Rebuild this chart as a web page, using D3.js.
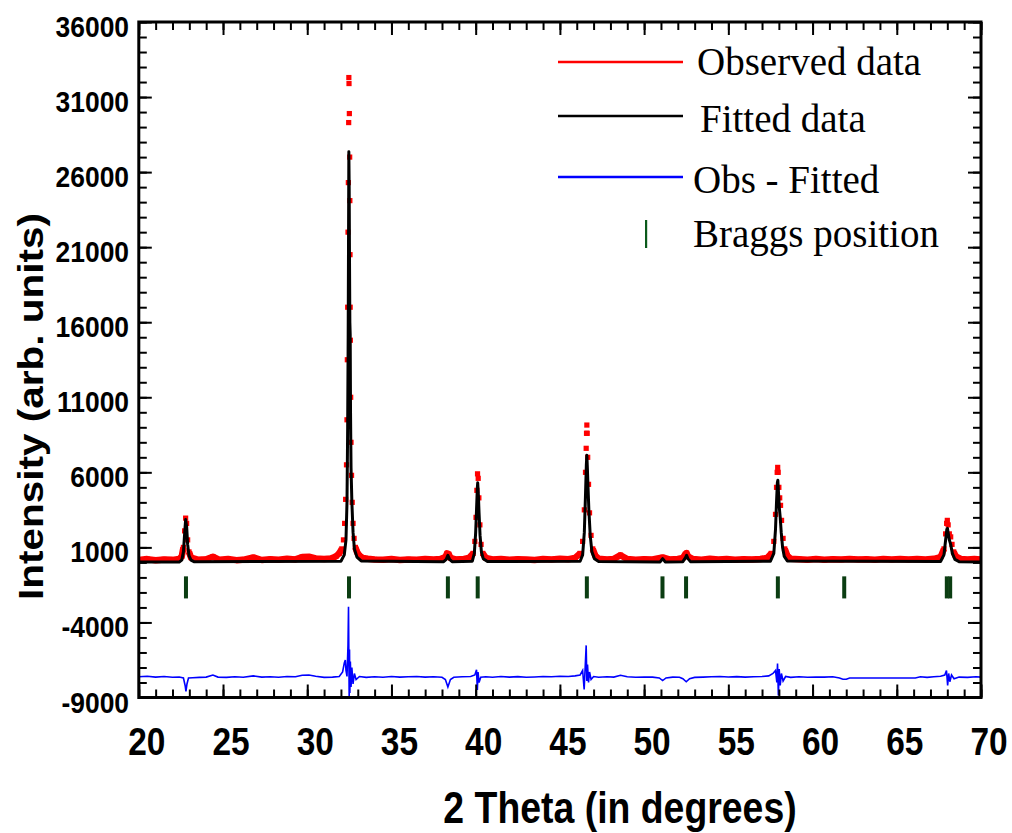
<!DOCTYPE html>
<html><head><meta charset="utf-8">
<script src="https://cdn.jsdelivr.net/npm/d3@7"></script>
<style>body{margin:0;background:#fff}svg{display:block}</style>
</head><body>
<svg id="chart" width="1012" height="833"></svg>
<script>
// ---- data ----
const xTicks = [20,25,30,35,40,45,50,55,60,65,70];
const yTicks = [-9000,-4000,1000,6000,11000,16000,21000,26000,31000,36000];
const legendLabels = ["Observed data","Fitted data","Obs - Fitted","Braggs position"];

const observed = [
[20.0,160],[20.5,220],[21.0,140],[21.5,200],[22.0,170],[22.4,230],
[22.55,400],[22.65,1000],[22.72,2100],[22.78,2950],[22.84,2600],[22.9,1500],[22.98,700],[23.1,320],
[23.5,180],[24.0,210],[24.4,380],[24.8,170],[25.3,230],[25.8,150],[26.3,200],[26.8,330],[27.3,160],[27.8,210],
[28.3,180],[28.8,240],[29.3,200],[29.7,360],[30.1,380],[30.5,260],[31.0,220],[31.4,260],[31.7,400],[31.9,600],
[32.05,900],[32.15,1500],[32.22,2600],[32.28,4200],[32.33,6500],[32.36,9500],[32.38,13500],[32.40,17000],
[32.42,22000],[32.44,25300],[32.46,29300],[32.47,32300],[32.48,31900],[32.50,29900],[32.52,27000],[32.53,24100],
[32.54,20500],[32.55,17000],[32.56,14800],[32.58,11000],[32.60,8000],[32.63,5800],[32.67,4000],[32.72,2600],
[32.78,1600],[32.86,1000],[32.95,700],[33.1,450],[33.3,300],
[33.6,250],[34.0,200],[34.5,180],[35.0,220],[35.5,160],[36.0,200],[36.5,170],[37.0,230],[37.5,190],[37.9,220],
[38.2,350],[38.3,600],[38.4,550],[38.5,300],[38.8,200],[39.3,230],[39.6,300],
[39.85,600],[39.95,1400],[40.02,3000],[40.07,4800],[40.11,5900],[40.15,5600],[40.19,4300],[40.25,2500],[40.32,1200],[40.42,600],[40.6,300],
[41.0,200],[41.5,230],[42.0,170],[42.5,210],[43.0,190],[43.5,160],[44.0,220],[44.5,200],[45.0,240],[45.5,210],[45.9,300],[46.2,600],
[46.35,1400],[46.45,3500],[46.52,6000],[46.56,7600],[46.58,8600],[46.6,9150],[46.62,8600],[46.65,7000],[46.7,5200],
[46.76,3300],[46.85,1800],[46.95,900],[47.1,450],[47.3,250],
[47.8,200],[48.2,230],[48.6,480],[49.0,220],[49.5,180],[50.0,210],[50.5,190],[51.1,330],[51.5,200],[52.0,230],[52.3,300],
[52.45,550],[52.52,620],[52.6,400],
[52.9,220],[53.4,180],[53.9,240],[54.4,190],[54.9,220],[55.4,180],[55.9,210],[56.4,200],[56.9,230],[57.3,300],[57.55,600],
[57.7,1400],[57.8,3200],[57.86,5000],[57.9,6000],[57.93,6330],[57.96,6000],[58.0,5000],[58.05,4300],[58.1,3800],
[58.16,2800],[58.25,1600],[58.35,900],[58.5,450],[58.7,250],
[59.2,210],[59.7,180],[60.2,220],[60.7,170],[61.2,210],[61.7,190],[62.2,230],[62.7,200],[63.2,210],[63.7,180],
[64.2,220],[64.7,190],[65.2,230],[65.7,200],[66.2,220],[66.7,190],[67.2,240],[67.6,350],
[67.8,900],[67.9,1900],[67.96,2600],[68.0,2800],[68.05,2500],[68.12,1900],[68.2,1700],[68.28,1200],[68.38,700],[68.5,400],
[68.8,230],[69.2,200],[69.6,220],[70.0,190]
];

const fitted = [
[20,20],[22.4,30],[22.55,150],[22.65,700],[22.72,1900],[22.78,2850],[22.84,2400],[22.9,1200],[22.98,450],[23.1,150],[23.3,40],
[32.0,80],[32.2,500],[32.3,1500],[32.36,4000],[32.40,9000],[32.43,15000],[32.45,21000],[32.47,27350],[32.49,25000],
[32.51,20000],[32.53,16000],[32.55,15200],[32.57,10000],[32.6,6300],[32.65,4000],[32.72,2000],[32.8,900],[32.95,350],[33.2,100],
[38.1,50],[38.25,200],[38.35,470],[38.45,200],[38.6,50],
[39.8,80],[39.92,600],[40.0,2000],[40.06,3800],[40.1,5000],[40.12,5300],[40.16,4500],[40.2,3300],[40.26,1800],[40.34,700],[40.45,250],[40.7,60],
[46.2,80],[46.35,500],[46.45,2000],[46.52,4500],[46.57,6500],[46.6,7130],[46.63,6300],[46.67,5000],[46.72,3500],[46.8,1800],[46.9,700],[47.05,250],[47.3,60],
[50.95,30],[51.1,250],[51.25,30],
[52.3,50],[52.45,300],[52.52,470],[52.6,250],[52.75,50],
[57.5,80],[57.7,600],[57.8,2200],[57.86,4000],[57.91,5300],[57.94,5470],[57.98,4600],[58.03,3600],[58.08,3000],[58.14,2000],[58.22,1000],[58.32,400],[58.5,100],
[67.6,60],[67.8,500],[67.9,1500],[67.97,2200],[68.01,2267],[68.06,1900],[68.12,1500],[68.2,1200],[68.3,600],[68.45,200],[68.7,50],[70,30]
];

const residual = [
[20.0,-7620],[20.5,-7580],[21.0,-7640],[21.5,-7600],[22.0,-7650],[22.4,-7640],[22.65,-7700],[22.75,-8200],[22.8,-8600],
[22.86,-8100],[22.95,-7700],[23.2,-7680],[23.6,-7660],[24.0,-7640],[24.4,-7500],[24.7,-7640],[25.2,-7660],[25.7,-7620],
[26.2,-7650],[26.8,-7560],[27.3,-7640],[27.8,-7620],[28.3,-7650],[28.8,-7600],[29.3,-7620],[29.7,-7520],[30.1,-7500],
[30.5,-7580],[31.0,-7660],[31.5,-7640],[31.9,-7600],[32.1,-7300],[32.2,-6700],[32.26,-6500],[32.3,-7200],[32.36,-7600],
[32.42,-5500],[32.45,-2950],[32.47,-6000],[32.49,-9000],[32.51,-5800],[32.53,-8700],[32.56,-6600],[32.6,-8300],[32.65,-7000],
[32.72,-8100],[32.8,-7400],[32.9,-7800],[33.1,-7600],[33.5,-7660],[34.0,-7620],[34.5,-7650],[35.0,-7600],[35.5,-7640],
[36.0,-7620],[36.5,-7600],[37.0,-7640],[37.5,-7620],[38.0,-7650],[38.2,-7800],[38.35,-8300],[38.5,-7800],[38.7,-7650],
[39.2,-7620],[39.7,-7600],[39.95,-7500],[40.05,-7150],[40.1,-8500],[40.14,-7300],[40.2,-8000],[40.3,-7650],[40.6,-7620],
[41.0,-7650],[41.5,-7600],[42.0,-7640],[42.5,-7610],[43.0,-7650],[43.5,-7630],[44.0,-7600],[44.5,-7620],[45.0,-7580],
[45.5,-7600],[45.9,-7560],[46.2,-7500],[46.35,-7200],[46.44,-8470],[46.5,-7000],[46.56,-5530],[46.6,-7900],[46.64,-6800],
[46.7,-8000],[46.76,-7300],[46.85,-7800],[47.0,-7600],[47.3,-7650],[47.8,-7620],[48.2,-7640],[48.6,-7520],[49.0,-7620],
[49.5,-7650],[50.0,-7630],[50.5,-7640],[50.9,-7700],[51.1,-7870],[51.3,-7700],[51.7,-7640],[52.1,-7650],[52.3,-7750],
[52.5,-7950],[52.7,-7750],[53.0,-7660],[53.5,-7640],[54.0,-7620],[54.5,-7600],[55.0,-7630],[55.5,-7610],[56.0,-7640],
[56.5,-7620],[57.0,-7600],[57.4,-7560],[57.65,-7400],[57.8,-7200],[57.88,-8000],[57.92,-6730],[57.97,-8870],[58.02,-7100],
[58.08,-8200],[58.15,-7400],[58.25,-7900],[58.4,-7600],[58.7,-7660],[59.2,-7620],[59.7,-7650],[60.2,-7630],[60.7,-7640],
[61.2,-7620],[61.6,-7700],[61.8,-7780],[62.0,-7780],[62.2,-7700],[66.1,-7700],[66.4,-7620],[66.8,-7660],[67.2,-7620],
[67.6,-7580],[67.85,-7500],[67.95,-7200],[68.02,-8200],[68.08,-7400],[68.15,-7950],[68.25,-7500],[68.4,-7750],[68.7,-7640],
[69.2,-7660],[69.7,-7620],[70.0,-7640]
];

const braggPositions = [22.80,32.48,38.35,40.12,46.60,51.09,52.49,57.94,61.88,67.97,68.17];
const braggRange = [-930,-2400];

// ---- layout ----
const svg = d3.select("#chart");
const L = 138.8, R = 981, T = 22, B = 697.5;
const x = d3.scaleLinear().domain([20,70]).range([L,R]);
const y = d3.scaleLinear().domain([-9000,36000]).range([B,T]);

svg.append("rect").attr("width",1012).attr("height",833).attr("fill","#fff");

const plot = svg.append("g");
svg.append("clipPath").attr("id","clip").append("rect")
  .attr("x",L).attr("y",T).attr("width",R-L).attr("height",B-T);
plot.attr("clip-path","url(#clip)");

const line = d3.line().x(d=>x(d[0])).y(d=>y(d[1]));

// observed: dense band near background, separate points on the peaks
plot.append("path").datum(observed)
  .attr("d",d3.line().defined(d=>d[1]<=1000).x(d=>x(d[0])).y(d=>y(d[1])))
  .attr("fill","none").attr("stroke","#ff0000").attr("stroke-width",6.5).attr("stroke-linejoin","round");
plot.append("g").selectAll("rect").data(observed).join("rect")
  .attr("x",d=>x(d[0])-2.6).attr("y",d=>y(d[1])-2.6).attr("width",5.2).attr("height",5.2).attr("fill","#ff0000");

// fitted
plot.append("path").datum(fitted).attr("d",line)
  .attr("fill","none").attr("stroke","#000").attr("stroke-width",3).attr("stroke-linejoin","round");

// residual
plot.append("path").datum(residual).attr("d",line)
  .attr("fill","none").attr("stroke","#0000ff").attr("stroke-width",1.6);

// bragg ticks
plot.append("g").selectAll("rect").data(braggPositions).join("rect")
  .attr("x",d=>x(d)-2).attr("y",y(braggRange[0])).attr("width",4)
  .attr("height",y(braggRange[1])-y(braggRange[0])).attr("fill","#0b3d12");

// ---- axes ----
const minorX = d3.range(20,71,1), minorY = d3.range(-9000,36001,1000);
function styleAxis(g){ g.select(".domain").remove(); g.selectAll("line").attr("stroke","#000").attr("stroke-width",2); g.selectAll("text").remove(); }
svg.append("g").attr("transform",`translate(0,${B})`).call(d3.axisBottom(x).tickValues(minorX).tickSize(-8)).call(styleAxis);
svg.append("g").attr("transform",`translate(0,${B})`).call(d3.axisBottom(x).tickValues(xTicks).tickSize(-13)).call(styleAxis);
svg.append("g").attr("transform",`translate(0,${T})`).call(d3.axisTop(x).tickValues(minorX).tickSize(-8)).call(styleAxis);
svg.append("g").attr("transform",`translate(0,${T})`).call(d3.axisTop(x).tickValues(xTicks).tickSize(-13)).call(styleAxis);
svg.append("g").attr("transform",`translate(${L},0)`).call(d3.axisLeft(y).tickValues(minorY).tickSize(-8)).call(styleAxis);
svg.append("g").attr("transform",`translate(${L},0)`).call(d3.axisLeft(y).tickValues(yTicks).tickSize(-13)).call(styleAxis);
svg.append("g").attr("transform",`translate(${R},0)`).call(d3.axisRight(y).tickValues(minorY).tickSize(-8)).call(styleAxis);
svg.append("g").attr("transform",`translate(${R},0)`).call(d3.axisRight(y).tickValues(yTicks).tickSize(-13)).call(styleAxis);

svg.append("rect").attr("x",L).attr("y",T).attr("width",R-L).attr("height",B-T)
  .attr("fill","none").attr("stroke","#000").attr("stroke-width",3);

// tick labels
const sans = "'Liberation Sans', Arial, sans-serif";
svg.append("g").selectAll("text").data(yTicks).join("text")
  .attr("transform",d=>`translate(129,${y(d)+15}) scale(0.88,1)`)
  .attr("text-anchor","end").attr("font-family",sans).attr("font-weight","bold").attr("font-size",30)
  .attr("fill","#000").text(d=>d);
svg.append("g").selectAll("text").data(xTicks).join("text")
  .attr("transform",d=>`translate(${x(d)+8},755) scale(0.88,1)`)
  .attr("text-anchor","middle").attr("font-family",sans).attr("font-weight","bold").attr("font-size",38)
  .attr("fill","#000").text(d=>d);

// axis titles
svg.append("text").attr("transform","translate(620,823) scale(0.85,1)")
  .attr("text-anchor","middle").attr("font-family",sans).attr("font-weight","bold").attr("font-size",44)
  .text("2 Theta (in degrees)");
svg.append("text").attr("transform","translate(43,406.5) rotate(-90) scale(1.125,1)")
  .attr("text-anchor","middle").attr("font-family",sans).attr("font-weight","bold").attr("font-size",36)
  .text("Intensity (arb. units)");

// legend
const serif = "'Liberation Serif', 'Times New Roman', serif";
const leg = svg.append("g");
const legColors = ["#ff0000","#000000","#0000ff"];
const legLineY = [62,116,177];
const legTextPos = [[697,75],[700,132],[693,193],[693,247]];
legColors.forEach((c,i)=>{
  leg.append("line").attr("x1",558).attr("x2",683).attr("y1",legLineY[i]).attr("y2",legLineY[i])
    .attr("stroke",c).attr("stroke-width",2.5);
});
leg.append("rect").attr("x",645).attr("y",220).attr("width",2.2).attr("height",28).attr("fill","#0b5a1b");
legendLabels.forEach((t,i)=>{
  leg.append("text").attr("x",legTextPos[i][0]).attr("y",legTextPos[i][1])
    .attr("font-family",serif).attr("font-size",39).attr("fill","#000").text(t);
});
</script>
</body></html>
